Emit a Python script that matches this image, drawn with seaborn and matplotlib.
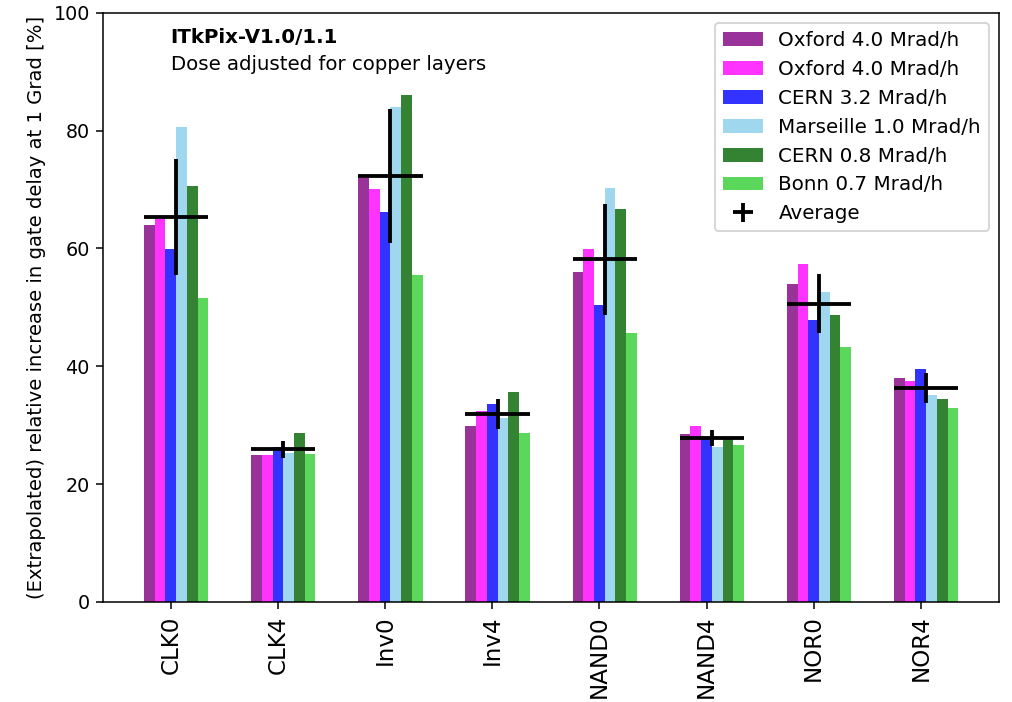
import numpy as np
import pandas as pd
import matplotlib
matplotlib.use("Agg")
import matplotlib.pyplot as plt
import seaborn as sns

# Gate types along the x axis
gates = ["CLK0", "CLK4", "Inv0", "Inv4", "NAND0", "NAND4", "NOR0", "NOR4"]

# Irradiation campaigns (legend labels) and their bar colours
series_keys = ["oxford_1", "oxford_2", "cern_32", "marseille_10", "cern_08", "bonn_07"]
series_labels = [
    "Oxford 4.0 Mrad/h",
    "Oxford 4.0 Mrad/h",
    "CERN 3.2 Mrad/h",
    "Marseille 1.0 Mrad/h",
    "CERN 0.8 Mrad/h",
    "Bonn 0.7 Mrad/h",
]
series_colors = ["purple", "magenta", "blue", "skyblue", "darkgreen", "limegreen"]

# Relative increase in gate delay at 1 Grad [%], one list per campaign
oxford_1 = [64.0, 25.0, 72.0, 29.9, 56.0, 28.5, 54.0, 38.0]
oxford_2 = [65.0, 25.0, 70.0, 32.4, 59.9, 29.9, 57.4, 37.5]
cern_32 = [59.9, 26.3, 66.1, 33.6, 50.4, 27.6, 47.9, 39.6]
marseille_10 = [80.6, 25.3, 84.0, 31.3, 70.3, 26.3, 52.6, 35.1]
cern_08 = [70.6, 28.7, 86.1, 35.7, 66.7, 27.9, 48.7, 34.5]
bonn_07 = [51.6, 25.1, 55.5, 28.7, 45.7, 26.7, 43.3, 32.9]

series_values = [oxford_1, oxford_2, cern_32, marseille_10, cern_08, bonn_07]

# Long-form table for seaborn
rows = []
for key, vals in zip(series_keys, series_values):
    for gate, v in zip(gates, vals):
        rows.append({"gate": gate, "series": key, "value": v})
df = pd.DataFrame(rows)

# Average over campaigns with sample standard deviation
matrix = np.array(series_values)
means = matrix.mean(axis=0)
stds = matrix.std(axis=0, ddof=1)

sns.set_style("ticks", {
    "axes.edgecolor": "black",
    "text.color": "black",
    "axes.labelcolor": "black",
    "xtick.color": "black",
    "ytick.color": "black",
})
plt.rcParams["font.family"] = ["DejaVu Sans"]

DPI = 138
fig = plt.figure(figsize=(1012 / DPI, 702 / DPI), dpi=DPI)
ax = fig.add_axes([0.1021, 0.1425, 0.8851, 0.8394])

sns.barplot(
    data=df, x="gate", y="value", hue="series",
    order=gates, hue_order=series_keys,
    palette=dict(zip(series_keys, series_colors)),
    width=0.6, alpha=0.8, saturation=1, linewidth=0,
    errorbar=None, ax=ax,
)

eb = ax.errorbar(
    np.arange(len(gates)), means, xerr=0.3, yerr=stds,
    fmt="none", ecolor="black", elinewidth=2, zorder=4, label="Average",
)

old = ax.get_legend()
handles = list(old.legend_handles)
old.remove()
ax.legend(handles + [eb], series_labels + ["Average"], loc="upper right",
          fontsize=10.4)

ax.set_xlim(-0.68, 7.68)
ax.set_xticks(np.arange(len(gates)) - 0.05, gates, rotation=90, fontsize=12)
ax.set_ylim(0, 100)
ax.set_yticks(np.arange(0, 101, 20))
ax.set_xlabel("")
ax.set_ylabel("(Extrapolated) relative increase in gate delay at 1 Grad [%]",
              fontsize=10.25)

ax.text(0.075, 0.949, "ITkPix-V1.0/1.1", weight="bold", fontsize=10.3,
        transform=ax.transAxes, va="baseline")
ax.text(0.075, 0.903, "Dose adjusted for copper layers", fontsize=10.3,
        transform=ax.transAxes, va="baseline")

fig.savefig("out.png", dpi=DPI)
